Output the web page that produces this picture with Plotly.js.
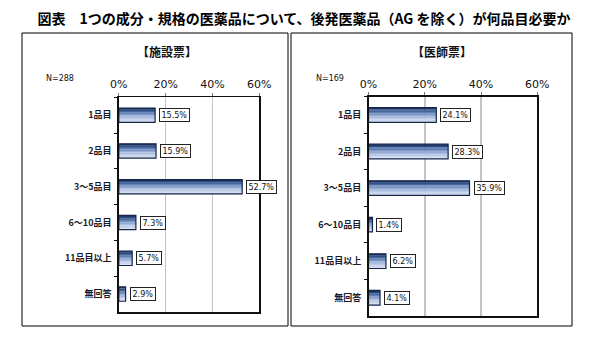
<!DOCTYPE html>
<html>
<head>
<meta charset="utf-8">
<script src="https://cdn.plot.ly/plotly-3.0.1.min.js"></script>
<style>html,body{margin:0;padding:0;background:#fff;}#chart{width:597px;height:345px;}</style>
</head>
<body>
<div id="chart"></div>
<script>
// ---- data ----
const categories = ['1品目', '2品目', '3～5品目', '6～10品目', '11品目以上', '無回答'];
const facilityValues = [15.5, 15.9, 52.7, 7.3, 5.7, 2.9];
const physicianValues = [24.1, 28.3, 35.9, 1.4, 6.2, 4.1];
const xTickValues = [0, 20, 40, 60];
const panelTitles = ['【施設票】', '【医師票】'];
const panelN = ['N=288', 'N=169'];
const chartTitle = '図表　1つの成分・規格の医薬品について、後発医薬品（AG を除く）が何品目必要か';

// ---- styling ----
const W = 597, H = 345;
const gradient = ['#1a3260', '#2c4b80', '#46669e', '#6380b5', '#7d97c6', '#95abd4', '#aabddf', '#bbcae7', '#c9d5ed', '#d6e0f2'];
const barWidth = 0.4;
const sliceW = barWidth / gradient.length;

function px(x) { return x / W; }
function py(y) { return 1 - y / H; }

const traces = [];
const annotations = [];
[[facilityValues, 'x', 'y'], [physicianValues, 'x2', 'y2']].forEach(([vals, xa, ya]) => {
  gradient.forEach((c, i) => {
    traces.push({
      type: 'bar', orientation: 'h', x: vals, y: categories, xaxis: xa, yaxis: ya,
      offset: -barWidth / 2 + i * sliceW, width: sliceW * 1.15,
      marker: {color: c, line: {width: 0}}, hoverinfo: 'skip', showlegend: false
    });
  });
  traces.push({
    type: 'bar', orientation: 'h', x: vals, y: categories, xaxis: xa, yaxis: ya,
    offset: -barWidth / 2, width: barWidth,
    marker: {color: 'rgba(0,0,0,0)', line: {color: '#15254a', width: 1.2}},
    hoverinfo: 'skip', showlegend: false
  });
  vals.forEach((v, i) => {
    annotations.push({
      xref: xa, yref: ya, x: v, y: categories[i], xanchor: 'left', yanchor: 'middle',
      xshift: 4, text: v.toFixed(1) + '%', showarrow: false,
      bgcolor: '#ffffff', bordercolor: '#222222', borderwidth: 1, borderpad: 1.5,
      font: {family: 'DejaVu Sans', size: 8, color: '#111111'}
    });
  });
});

// panel titles and N
const panelTitleX = [167.5, 442];
const panelNX = [44, 314];
panelTitles.forEach((t, i) => {
  annotations.push({xref: 'paper', yref: 'paper', x: px(panelTitleX[i]), y: py(51), xanchor: 'center', yanchor: 'middle',
    text: '<b>' + t + '</b>', showarrow: false, font: {family: 'Noto Sans CJK JP', size: 12, color: '#111'}});
  annotations.push({xref: 'paper', yref: 'paper', x: px(panelNX[i]), y: py(78), xanchor: 'left', yanchor: 'middle',
    text: panelN[i], showarrow: false, font: {family: 'DejaVu Sans', size: 8, color: '#111'}});
});

const xaxisCommon = {
  range: [0, 60], tickvals: xTickValues, ticktext: xTickValues.map(v => v + '%'),
  side: 'top', showgrid: true, gridcolor: '#c4c4c4', gridwidth: 1.5,
  showline: true, mirror: true, linecolor: '#111', linewidth: 1.5,
  ticks: 'outside', ticklen: 3, tickcolor: '#777', zeroline: false, fixedrange: true,
  tickfont: {family: 'DejaVu Sans', size: 11, color: '#111'}
};
const yaxisCommon = {
  type: 'category', autorange: 'reversed', showgrid: false,
  showline: true, mirror: true, linecolor: '#111', linewidth: 1.5,
  ticks: 'outside', ticklen: 3, tickcolor: '#111', tickson: 'boundaries', ticklabelstandoff: 4,
  tickfont: {family: 'Noto Sans CJK JP', size: 9, color: '#1a1a2a', weight: 'bold'}, fixedrange: true
};

const layout = {
  width: W, height: H, margin: {l: 0, r: 0, t: 0, b: 0},
  paper_bgcolor: '#fff', plot_bgcolor: '#fff', showlegend: false, barmode: 'overlay',
  title: {text: '<b>' + chartTitle + '</b>', x: px(304), y: py(19), xanchor: 'center', yanchor: 'middle',
    xref: 'paper', yref: 'paper', font: {family: 'Noto Sans CJK JP', size: 14, color: '#000'}},
  xaxis: Object.assign({}, xaxisCommon, {domain: [px(118.8), px(259.3)], anchor: 'y'}),
  yaxis: Object.assign({}, yaxisCommon, {domain: [py(312), py(97.3)], anchor: 'x'}),
  xaxis2: Object.assign({}, xaxisCommon, {domain: [px(368.5), px(537.3)], anchor: 'y2'}),
  yaxis2: Object.assign({}, yaxisCommon, {domain: [py(316), py(96.7)], anchor: 'x2'}),
  annotations: annotations,
  shapes: [
    {type: 'rect', xref: 'paper', yref: 'paper', x0: px(22), x1: px(288), y0: py(326), y1: py(33), line: {color: '#000', width: 1}},
    {type: 'rect', xref: 'paper', yref: 'paper', x0: px(291), x1: px(572), y0: py(326), y1: py(33), line: {color: '#000', width: 1}}
  ]
};

Plotly.newPlot('chart', traces, layout, {staticPlot: true, displayModeBar: false});
</script>
</body>
</html>
